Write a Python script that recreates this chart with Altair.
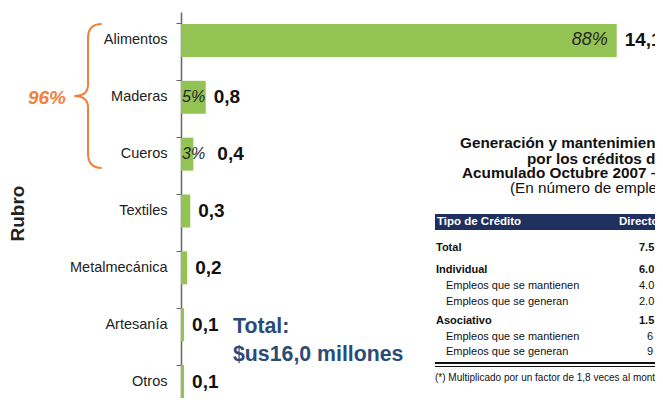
import altair as alt
import pandas as pd

# ---------------- data ----------------
rubros = ["Alimentos", "Maderas", "Cueros", "Textiles", "Metalmecánica", "Artesanía", "Otros"]
montos = [14.1, 0.8, 0.4, 0.3, 0.2, 0.1, 0.1]
porcentajes = ["88%", "5%", "3%", "", "", "", ""]
grupo_pct = "96%"
total_lineas = ["Total:", "$us16,0 millones"]

tabla_titulo = ["Generación y mantenimiento de empleos", "por los créditos del",
                "Acumulado Octubre 2007 – 2008", "(En número de empleos)"]
tabla_encabezado = ["Tipo de Crédito", "Directos"]
tabla_filas = ["Total", "Individual", "Empleos que se mantienen", "Empleos que se generan",
               "Asociativo", "Empleos que se mantienen", "Empleos que se generan"]
tabla_valores = ["7.5", "6.0", "4.0", "2.0", "1.5", "6", "9"]
tabla_nota = "(*) Multiplicado por un factor de 1,8 veces al monto"

df = pd.DataFrame({
    "rubro": rubros,
    "monto": montos,
    "etiqueta": [f"{v:.1f}".replace(".", ",") for v in montos],
    "pct": porcentajes,
})

# ---------------- styles ----------------
FONT = "Liberation Sans"
GREEN = "#92c353"
ORANGE = "#f0803c"
NAVY = "#1f2f5e"
BLUE = "#2b4b77"
DARK = "#222222"

Y = alt.Y("rubro:N", sort=rubros,
          scale=alt.Scale(domain=rubros, range=[0, 398], paddingInner=0.42, paddingOuter=0.21),
          axis=alt.Axis(title="Rubro", titleFont=FONT, titleFontSize=19, titleFontWeight="bold",
                        titleColor=DARK, titleAngle=270, titleX=-164, titleY=201,
                        titleAlign="center", titleBaseline="middle",
                        labelFont=FONT, labelFontSize=14.5, labelColor=DARK, labelPadding=9,
                        tickSize=5, tickColor="#666666", domainColor="#666666", domainWidth=1.5,
                        bandPosition=0, grid=False))
X = alt.X("monto:Q", scale=alt.Scale(domain=[0, 474 / 30.9]), axis=None)

base = alt.Chart(df)
bars = base.mark_bar(color=GREEN).encode(y=Y, x=X)

vals = base.mark_text(align="left", baseline="middle", dx=8, font=FONT, fontSize=19,
                      fontWeight="bold", color="#111111").encode(
    y=Y, x=X, text="etiqueta:N").transform_filter(alt.datum.rubro != "Cueros")
vals_c = base.mark_text(align="left", baseline="middle", dx=24, font=FONT, fontSize=19,
                        fontWeight="bold", color="#111111").encode(
    y=Y, x=X, text="etiqueta:N").transform_filter(alt.datum.rubro == "Cueros")

pct_big = base.mark_text(align="right", baseline="middle", dx=-9, font=FONT, fontSize=18,
                         fontStyle="italic", color="#262626").encode(
    y=Y, x=X, text="pct:N").transform_filter(alt.datum.rubro == "Alimentos")
pct_small = base.mark_text(align="left", baseline="middle", font=FONT, fontSize=16,
                           fontStyle="italic", color="#262626").encode(
    y=Y, x=alt.value(1), text="pct:N").transform_filter(
    (alt.datum.rubro == "Maderas") | (alt.datum.rubro == "Cueros"))

one = pd.DataFrame({"t": [""]})


def label(text, x, y, size, weight="normal", color=DARK, align="left", style="normal"):
    return alt.Chart(pd.DataFrame({"t": [text]})).mark_text(
        align=align, baseline="middle", font=FONT, fontSize=size, fontWeight=weight,
        fontStyle=style, color=color).encode(x=alt.value(x), y=alt.value(y), text="t:N")


# brace (custom symbol path) and group percentage
brace_path = "M 0.19 -1 Q 0 -1 0 -0.8 L 0 -0.16 Q 0 0 -0.19 0 Q 0 0 0 0.16 L 0 0.8 Q 0 1 0.19 1"
brace = alt.Chart(one).mark_point(shape=brace_path, filled=False, color=ORANGE, strokeWidth=2,
                                  opacity=1, size=144 * 144).encode(
    x=alt.value(-93), y=alt.value(84))
grp = label(grupo_pct, -134, 86, 19, weight="bold", color=ORANGE, align="center", style="italic")

# total annotation
tot1 = label(total_lineas[0], 52, 315, 21.3, weight="bold", color=BLUE)
tot2 = label(total_lineas[1], 52, 343, 21.3, weight="bold", color=BLUE)

# table image
layers_tab = []
tx = [279, 346, 281, 329]
ty = [131, 147, 161, 176]
for i, t in enumerate(tabla_titulo):
    layers_tab.append(label(t, tx[i], ty[i], 15.3, weight="normal" if i == 3 else "bold",
                            color="#111111"))
header = alt.Chart(one).mark_rect(color=NAVY).encode(
    x=alt.value(254), x2=alt.value(520), y=alt.value(202), y2=alt.value(218))
layers_tab.append(header)
layers_tab.append(label(tabla_encabezado[0], 256, 210, 11.5, weight="bold", color="white"))
layers_tab.append(label(tabla_encabezado[1], 438, 210, 11.5, weight="bold", color="white"))
row_y = [236, 258, 274, 290, 309, 325, 340]
bold_rows = {0, 1, 4}
for i, (r, v) in enumerate(zip(tabla_filas, tabla_valores)):
    b = i in bold_rows
    layers_tab.append(label(r, 255 if b else 265, row_y[i], 11,
                            weight="bold" if b else "normal", color="#111111"))
    layers_tab.append(label(v, 466 if len(v) == 1 else 458, row_y[i], 11,
                            weight="bold" if b else "normal", color="#111111"))
rule1 = alt.Chart(one).mark_rule(color="#111111", strokeWidth=2).encode(
    x=alt.value(254), x2=alt.value(520), y=alt.value(351))
rule2 = alt.Chart(one).mark_rule(color="#111111", strokeWidth=1).encode(
    x=alt.value(254), x2=alt.value(520), y=alt.value(354.5))
layers_tab += [rule1, rule2, label(tabla_nota, 254, 366, 10, color="#111111")]

chart = alt.layer(bars, vals, vals_c, pct_big, pct_small, brace, grp, tot1, tot2,
                  *layers_tab).properties(
    width=474, height=386,
    autosize=alt.AutoSizeParams(type="none"),
    padding={"left": 173, "top": 4, "right": 0, "bottom": 0},
    background="white",
).configure_view(stroke=None)

chart.save("out.html", embed_options={"renderer": "svg", "actions": False})
